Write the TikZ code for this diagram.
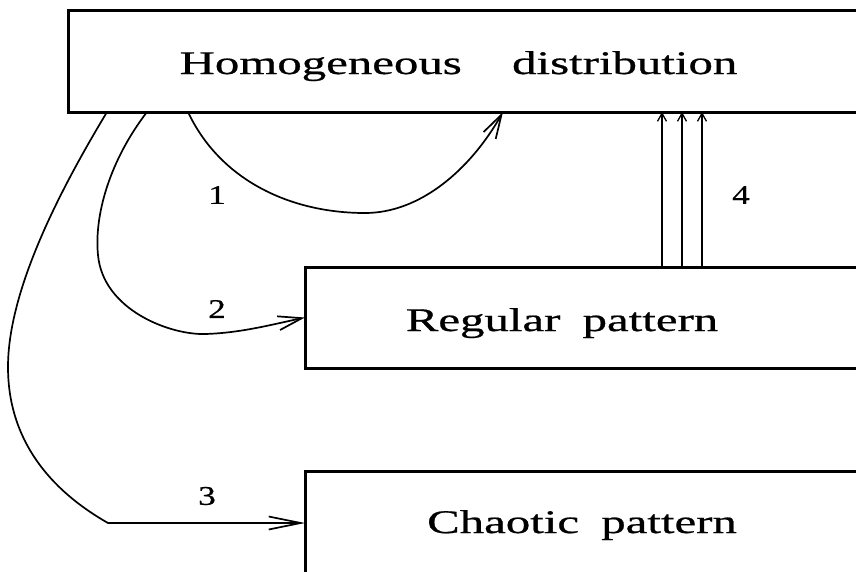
\documentclass[tikz,border=0pt]{standalone}
\usepackage{fontspec}
\setmainfont{Liberation Serif}
\newfontfamily\heavyserif[FakeBold=0.6]{Liberation Serif}
\usetikzlibrary{arrows.meta,calc}
\tikzset{
  box/.style={draw, line width=3pt, inner sep=0pt, outer sep=0pt},
  btext/.style={anchor=base, inner sep=0pt, font=\heavyserif\fontsize{33}{38}\selectfont},
  num/.style={inner sep=0pt, font=\heavyserif\fontsize{27}{30}\selectfont},
  flow/.style={line width=1.7pt, -{Straight Barb[length=24pt,width=14pt,line width=1.7pt]}},
  up/.style={line width=1.3pt, -{Straight Barb[length=8pt,width=9pt,line width=1.3pt]}}
}
\begin{document}
\begin{tikzpicture}[x=1pt,y=-1pt]
\useasboundingbox (0,0) rectangle (856,571);
\clip (0,0) rectangle (856,571);
% boxes (extend past the right / bottom edge as in the reference)
\node[box, minimum width=832pt, minimum height=102pt] (hom) at (484,61) {};
\node[box, minimum width=595pt, minimum height=101pt] (reg) at (602.5,317.5) {};
\node[box, minimum width=595pt, minimum height=149pt] (cha) at (602.5,545.5) {};
% box texts
\node[btext] (homt) at (458.5,74) {\scalebox{1.48}[1]{Homogeneous\hspace{34pt}distribution}};
\node[btext] (regt) at (562,331) {\scalebox{1.48}[1]{Regular\hspace{15pt}pattern}};
\node[btext] (chat) at (582,533) {\scalebox{1.48}[1]{Chaotic\hspace{15pt}pattern}};
% connector end points
\coordinate (s1) at ($(hom.south west)+(120,0)$);
\coordinate (e1) at ($(hom.south west)+(435,0)$);
\coordinate (s2) at ($(hom.south west)+(79,0)$);
\coordinate (s3) at ($(hom.south west)+(39,0)$);
\coordinate (e3) at ($(cha.north west)+(0,52)$);
\coordinate (k3) at (108,523);
% transition 1
\draw[flow] (s1) .. controls (220,180) and (290,213) .. (365,213)
  .. controls (420,213) and (470,170) .. (e1);
% transition 2
\draw[flow] (s2) .. controls (110,160) and (94,215) .. (98,255)
  .. controls (103,310) and (170,335) .. (205,334)
  .. controls (240,333) and (270,325) .. (reg.west);
% transition 3
\draw[flow, -{Straight Barb[length=32pt,width=13pt,line width=1.7pt]}] (s3) .. controls (60,190) and (8,290) .. (8,367)
  .. controls (8,440) and (50,490) .. (k3) -- (e3);
% transition 4
\foreach \dx [count=\i] in {357,377,397}{
  \coordinate (r\i) at ($(reg.north west)+(\dx,0)$);
  \draw[up] (r\i) -- (r\i |- hom.south);
}
% labels
\node[num] (l1) at (217,195) {\scalebox{1.3}[1]{1}};
\node[num] (l2) at (217,309) {\scalebox{1.3}[1]{2}};
\node[num] (l3) at (207,496) {\scalebox{1.3}[1]{3}};
\node[num] (l4) at (741,195) {\scalebox{1.3}[1]{4}};
\end{tikzpicture}
\end{document}
